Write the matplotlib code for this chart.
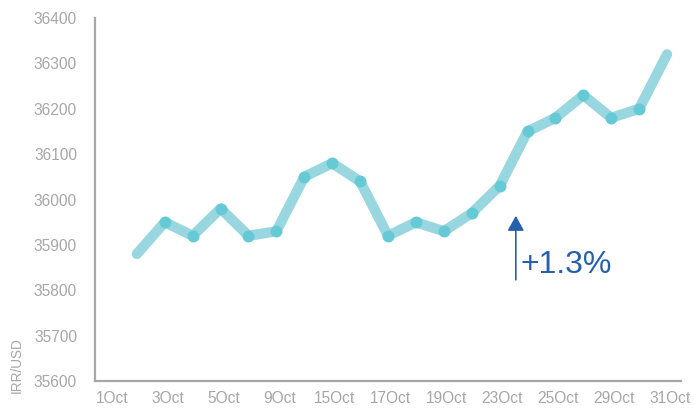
import numpy as np
import matplotlib
matplotlib.use('Agg')
import matplotlib.pyplot as plt

# IRR/USD exchange rate, October
tick_labels = ['1Oct', '3Oct', '5Oct', '9Oct', '15Oct', '17Oct', '19Oct',
               '23Oct', '25Oct', '29Oct', '31Oct']
rates = [35880, 35950, 35920, 35980, 35920, 35930, 36050, 36080, 36040, 35920,
         35950, 35930, 35970, 36030, 36150, 36180, 36230, 36180, 36200, 36320]
change_label = '+1.3%'

plt.rcParams['font.family'] = ['Liberation Sans', 'DejaVu Sans']

grey = '#a7a7aa'
line_col = '#98d7e0'
dot_col = '#66cad6'
blue = '#2460ae'

fig = plt.figure(figsize=(6.94, 4.08), dpi=100)
ax = fig.add_axes([95 / 694, 27 / 408, 586 / 694, 363 / 408])

x = np.arange(1, len(rates) + 1)
ax.plot(x, rates, color=line_col, lw=7.4, solid_capstyle='round',
        solid_joinstyle='round', zorder=2)
ax.plot(x[1:-1], rates[1:-1], 'o', ms=8.6, color=dot_col, mew=0, zorder=3)

ax.set_xlim(-0.5, 20.5)
ax.set_ylim(35600, 36400)
ax.set_yticks(np.arange(35600, 36401, 100))
ax.set_xticks(np.arange(0, 21, 2) + 0.1)
ax.set_xticklabels(tick_labels)

for s in ['top', 'right']:
    ax.spines[s].set_visible(False)
for s in ['left', 'bottom']:
    ax.spines[s].set_color(grey)
    ax.spines[s].set_linewidth(1.6)
ax.tick_params(length=0, labelsize=11.2, labelcolor=grey)
ax.tick_params(axis='y', pad=13)
ax.tick_params(axis='x', pad=7)

fig.text(17 / 694, 15 / 408, 'IRR/USD', rotation=90, color=grey,
         fontsize=9.8, ha='center', va='bottom')

# change arrow + label
ax.annotate('', xy=(14.58, 35964), xytext=(14.58, 35823),
            arrowprops=dict(arrowstyle='-|>,head_length=0.9,head_width=0.5',
                            color=blue, lw=1.2, shrinkA=0, shrinkB=0))
ax.text(14.74, 35837, change_label, color=blue, fontsize=23,
        ha='left', va='baseline')

fig.savefig('out.png', dpi=100)
